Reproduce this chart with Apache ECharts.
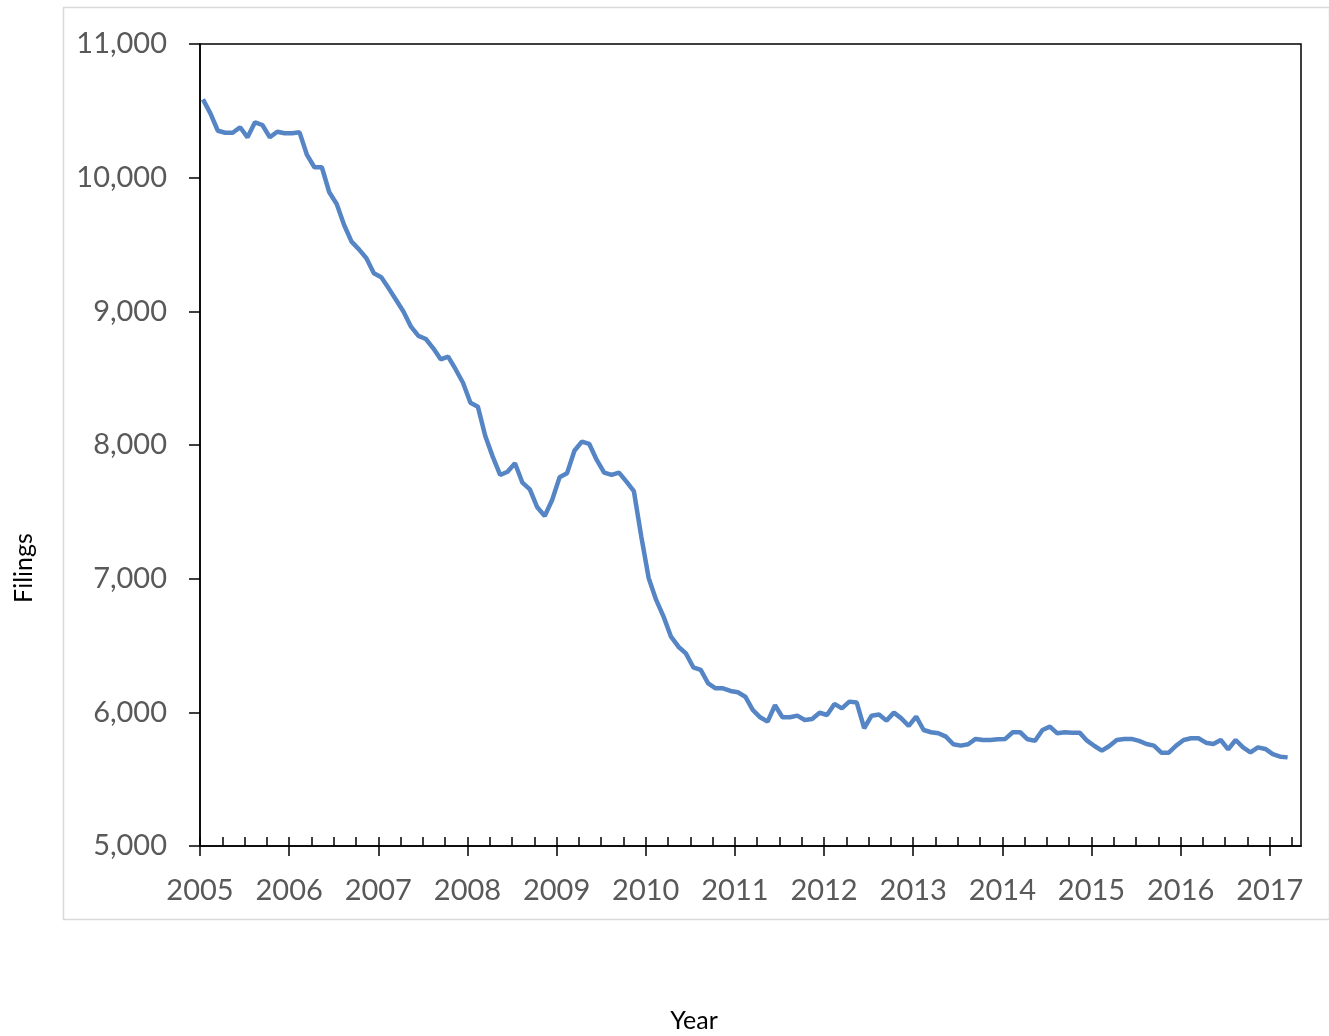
<!DOCTYPE html>
<html>
<head>
<meta charset="utf-8">
<script src="https://cdn.jsdelivr.net/npm/echarts@6/dist/echarts.min.js"></script>
<style>
html,body{margin:0;padding:0;background:#fff;}
#chart{width:1329px;height:1036px;}
</style>
</head>
<body>
<div id="chart"></div>
<script>
// Monthly filings, starting January 2005
var startYear = 2005;
var yearLabels = ['2005','2006','2007','2008','2009','2010','2011','2012','2013','2014','2015','2016','2017'];
var yTicks = [5000, 6000, 7000, 8000, 9000, 10000, 11000];
var filings = [
  10586,10481,10351,10336,10336,10377,10302,10414,10394,10302,10344,10332,
  10332,10339,10170,10078,10078,9891,9803,9646,9521,9464,9397,9285,
  9255,9172,9085,8997,8885,8816,8793,8723,8641,8661,8567,8466,
  8316,8287,8067,7913,7776,7800,7863,7718,7668,7534,7469,7589,
  7758,7788,7957,8025,8008,7888,7793,7776,7793,7726,7655,7314,
  7003,6841,6716,6566,6491,6441,6337,6317,6217,6180,6180,6160,
  6150,6117,6018,5963,5930,6053,5963,5963,5975,5943,5950,5997,
  5980,6063,6030,6080,6073,5881,5975,5984,5938,5998,5955,5898,
  5968,5868,5851,5843,5818,5761,5751,5761,5801,5793,5793,5798,
  5801,5851,5851,5798,5788,5868,5893,5843,5851,5848,5848,5788,
  5748,5713,5748,5793,5801,5801,5786,5763,5751,5698,5698,5751,
  5793,5806,5806,5773,5763,5793,5723,5793,5738,5701,5738,5726,
  5688,5668,5663
];

var seriesData = filings.map(function (v, i) { return [i + 0.4, v]; });
var majorTicks = yearLabels.map(function (y, i) { return i * 12; });
var minorTicks = [];
for (var m = 0; m <= yearLabels.length * 12 - 12 + 3; m += 3) minorTicks.push(m);

var labelFont = 'Lato, "Open Sans", sans-serif';
var chart = echarts.init(document.getElementById('chart'));
chart.setOption({
  animation: false,
  backgroundColor: '#ffffff',
  grid: {
    left: 200, top: 44, right: 28, bottom: 190,
    show: true, borderColor: '#000', borderWidth: 1.5, backgroundColor: 'transparent'
  },
  graphic: [
    { type: 'rect', left: 61, top: 5, z: -10, shape: { width: 1266, height: 912 },
      style: { fill: 'none', stroke: '#d9d9d9', lineWidth: 1.5 } },
    { type: 'text', x: 694, y: 1021, style: { text: 'Year', font: '25px ' + labelFont, fill: '#000', align: 'center', verticalAlign: 'middle' } },
    { type: 'text', x: 24, y: 568, rotation: Math.PI / 2, style: { text: 'Filings', font: '25px ' + labelFont, fill: '#000', align: 'center', verticalAlign: 'middle' } }
  ],
  xAxis: [
    {
      type: 'value', min: 0, max: 148.2, position: 'bottom',
      splitLine: { show: false },
      axisLine: { show: true, lineStyle: { color: '#000', width: 1.5 } },
      axisTick: { show: true, inside: false, length: 10, customValues: majorTicks, lineStyle: { color: '#000', width: 1.5 } },
      axisLabel: {
        show: true, margin: 30, customValues: majorTicks,
        color: '#595959', fontSize: 29, fontFamily: labelFont,
        formatter: function (v) { return yearLabels[Math.round(v / 12)] || ''; }
      }
    },
    {
      type: 'value', min: 0, max: 148.2, position: 'bottom',
      splitLine: { show: false },
      axisLine: { show: false },
      axisTick: { show: true, inside: true, length: 9, customValues: minorTicks, lineStyle: { color: '#000', width: 1.5 } },
      axisLabel: { show: false }
    }
  ],
  yAxis: {
    type: 'value', min: 5000, max: 11000, interval: 1000,
    splitLine: { show: false },
    axisLine: { show: true, lineStyle: { color: '#000', width: 1.5 } },
    axisTick: { show: true, inside: false, length: 11, lineStyle: { color: '#000', width: 1.5 } },
    axisLabel: {
      margin: 33, color: '#595959', fontSize: 29, fontFamily: labelFont,
      formatter: function (v) { return v.toLocaleString('en-US'); }
    }
  },
  series: [{
    type: 'line', xAxisIndex: 0, data: seriesData, showSymbol: false,
    lineStyle: { color: '#5585c4', width: 4.5 }, itemStyle: { color: '#5585c4' }
  }]
});
</script>
</body>
</html>
